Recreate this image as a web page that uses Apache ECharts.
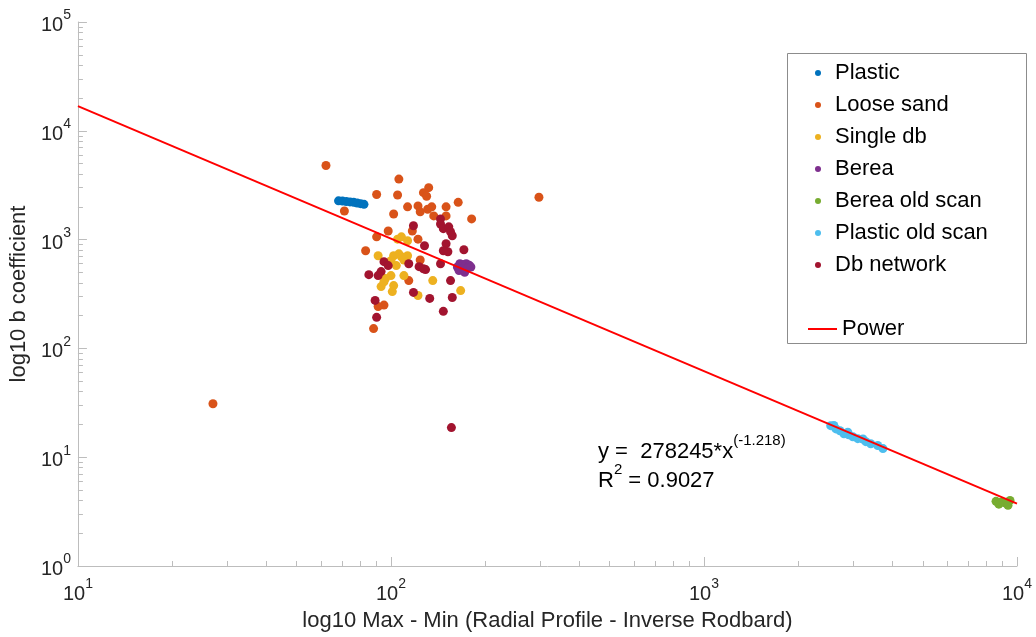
<!DOCTYPE html>
<html><head><meta charset="utf-8">
<script src="https://cdn.jsdelivr.net/npm/echarts@6/dist/echarts.min.js"></script>
<style>html,body{margin:0;padding:0;background:#fff}#c{width:1036px;height:637px}</style>
</head><body><div id="c"></div>
<script>
// ---- data ----
const plastic = [[68,2270],[70,2260],[72,2240],[74,2220],[76,2200],[78,2170],[80,2140],[82,2110]];
const looseSand = [[62,4800],[297,2450],[27,31],[106,3600],[90,2600],[105,2570],[132,3000],[127,2700],[130,2500],
  [164,2200],[71,1830],[113,2000],[122,2040],[124,1800],[131,1900],[135,2000],[150,2000],[150,1650],[102,1720],
  [181,1550],[137,1650],[98,1200],[90,1060],[122,1010],[117,1200],[83,790],[124,650],[114,420],[95,250],[91,243],[88,152]];
const singleDb = [[108,1060],[113,975],[105,1010],[91,710],[102,710],[108,695],[113,710],[99,600],[104,577],[100,640],
  [110,467],[100,467],[96,438],[93,370],[102,378],[101,333],[95,410],[122,306],[136,420],[167,340],[106,740],[110,650]];
const berea = [[163,560],[166,600],[170,590],[174,600],[178,580],[165,520],[170,540],[176,550],[180,560],[172,500]];
const bereaOld = [[8570,3.93],[8890,3.85],[9230,3.77],[9500,4.01],[9360,3.62],[8750,3.7]];
const plasticOld = [[2540,19.5],[2600,19.6],[2640,18.2],[2720,17.5],[2800,16.4],[2880,17.0],[2900,16.1],[2990,15.4],
  [3100,14.8],[3220,14.7],[3290,13.9],[3410,13.3],[3590,12.8],[3730,12.0]];
const dbNetwork = [[118,1340],[144,1550],[144,1390],[147,1260],[153,1310],[155,1180],[157,1085],[150,917],[152,773],
  [147,790],[171,807],[128,877],[144,600],[95,627],[98,577],[93,508],[91,467],[85,476],[114,600],[123,564],[129,530],
  [127,540],[155,420],[118,327],[133,288],[157,294],[147,219],[89,276],[90,193],[156,18.7]];
const powerLine = [[10,16835],[10000,3.74]];
const seriesNames = ['Plastic','Loose sand','Single db','Berea','Berea old scan','Plastic old scan','Db network'];
const seriesColors = ['#0072BD','#D95319','#EDB120','#7E2F8E','#77AC30','#4DBEEE','#A2142F'];
const xMinorTicks = [20,30,40,50,60,70,80,90,200,300,400,500,600,700,800,900,2000,3000,4000,5000,6000,7000,8000,9000];
const yMinorTicks = [2,3,4,5,6,7,8,9,20,30,40,50,60,70,80,90,200,300,400,500,600,700,800,900,
  2000,3000,4000,5000,6000,7000,8000,9000,20000,30000,40000,50000,60000,70000,80000,90000];
const fitText = ['y =  278245*x', '(-1.218)'];
const r2Text = ['R', '2', ' = 0.9027'];

const FONT = 'Liberation Sans, Arial, Helvetica, sans-serif';
const TXT = '#262626';
const AXC = '#bdbdbd';
const pow = v => '{b|10}{s|' + Math.round(Math.log10(v)) + '}';
const richLbl = {
  b: {fontSize: 20, fontFamily: FONT, color: TXT, lineHeight: 27, verticalAlign: 'bottom'},
  s: {fontSize: 14, fontFamily: FONT, color: TXT, lineHeight: 27, verticalAlign: 'top'}
};
const richAnn = {
  a: {fontSize: 22, fontFamily: FONT, color: '#000', lineHeight: 30, verticalAlign: 'bottom'},
  s: {fontSize: 15, fontFamily: FONT, color: '#000', lineHeight: 30, verticalAlign: 'top'}
};
const dataSets = [plastic, looseSand, singleDb, berea, bereaOld, plasticOld, dbNetwork];

const chart = echarts.init(document.getElementById('c'), null, {renderer: 'canvas'});
const option = {
  animation: false,
  backgroundColor: '#fff',
  grid: {left: 75, right: 19, top: 22, bottom: 68, containLabel: false},
  xAxis: [{
    type: 'log', logBase: 10, min: 10, max: 10000,
    name: 'log10 Max - Min (Radial Profile - Inverse Rodbard)', nameLocation: 'middle', nameGap: 44,
    nameTextStyle: {fontSize: 22, fontFamily: FONT, color: TXT},
    axisLine: {show: true, lineStyle: {color: AXC}},
    axisTick: {show: true, inside: true, length: 9, lineStyle: {color: AXC}},
    axisLabel: {formatter: pow, rich: richLbl, margin: 11},
    splitLine: {show: false}, minorTick: {show: false}
  }, {
    type: 'log', logBase: 10, min: 10, max: 10000, position: 'bottom',
    axisLine: {show: false},
    axisTick: {show: true, inside: true, length: 5, lineStyle: {color: AXC}, customValues: xMinorTicks},
    axisLabel: {show: false}, splitLine: {show: false}
  }],
  yAxis: [{
    type: 'log', logBase: 10, min: 1, max: 100000,
    name: 'log10 b coefficient', nameLocation: 'middle', nameGap: 45,
    nameTextStyle: {fontSize: 22, fontFamily: FONT, color: TXT},
    axisLine: {show: true, lineStyle: {color: AXC}},
    axisTick: {show: true, inside: true, length: 9, lineStyle: {color: AXC}},
    axisLabel: {formatter: pow, rich: richLbl, margin: 7},
    splitLine: {show: false}
  }, {
    type: 'log', logBase: 10, min: 1, max: 100000, position: 'left',
    axisLine: {show: false},
    axisTick: {show: true, inside: true, length: 5, lineStyle: {color: AXC}, customValues: yMinorTicks},
    axisLabel: {show: false}, splitLine: {show: false}
  }],
  legend: [{
    data: seriesNames, orient: 'vertical', left: 810, top: 57,
    icon: 'circle', itemWidth: 24, itemHeight: 6, itemGap: 10,
    textStyle: {fontSize: 22, fontFamily: FONT, color: '#000'}
  }, {
    data: ['Power'], orient: 'vertical', left: 803, top: 313,
    icon: 'rect', itemWidth: 29, itemHeight: 2,
    textStyle: {fontSize: 22, fontFamily: FONT, color: '#000'}
  }],
  graphic: [{
    type: 'rect', left: 787, top: 53, z: 0, silent: true,
    shape: {width: 239, height: 290},
    style: {fill: '#fff', stroke: '#8c8c8c', lineWidth: 1}
  }, {
    type: 'text', left: 598, top: 433, z: 10,
    style: {text: '{a|' + fitText[0] + '}{s|' + fitText[1] + '}', rich: richAnn}
  }, {
    type: 'text', left: 598, top: 462, z: 10,
    style: {text: '{a|' + r2Text[0] + '}{s|' + r2Text[1] + '}{a|' + r2Text[2] + '}', rich: richAnn}
  }],
  series: dataSets.map((d, i) => ({
    name: seriesNames[i], type: 'scatter', data: d, symbolSize: 9,
    itemStyle: {color: seriesColors[i], opacity: 1}, xAxisIndex: 0, yAxisIndex: 0
  })).concat([{
    name: 'Power', type: 'line', data: powerLine, showSymbol: false, symbol: 'none',
    lineStyle: {color: '#ff0000', width: 2}, itemStyle: {color: '#ff0000'}, z: 5,
    xAxisIndex: 0, yAxisIndex: 0
  }])
};
chart.setOption(option);
</script></body></html>
